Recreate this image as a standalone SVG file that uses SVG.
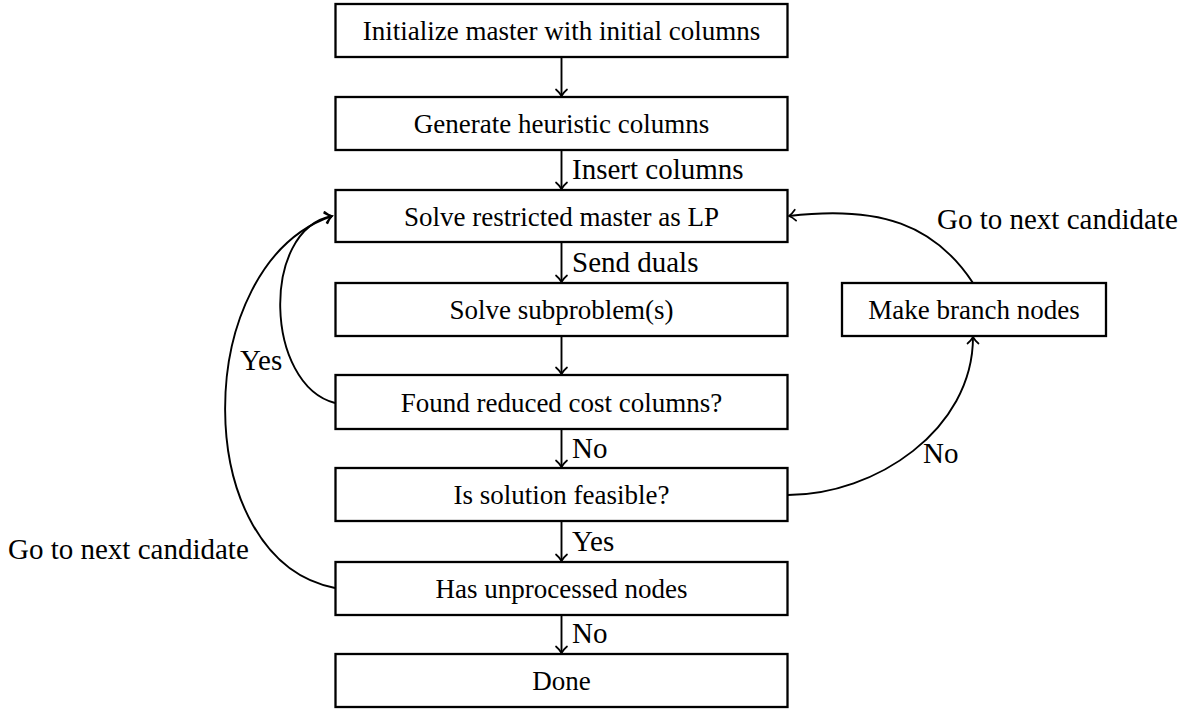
<svg xmlns="http://www.w3.org/2000/svg" width="1196" height="709" viewBox="0 0 1196 709">
<defs>
<style>
.box{fill:#fff;stroke:#000;stroke-width:2.3}
.nt{font-family:"Liberation Serif","DejaVu Serif",serif;font-size:27px;fill:#000;text-anchor:middle}
.lb{font-family:"Liberation Serif","DejaVu Serif",serif;font-size:29px;fill:#000}
.cn{fill:none;stroke:#000;stroke-width:1.9;marker-end:url(#arr)}
</style>
<marker id="arr" markerUnits="userSpaceOnUse" viewBox="-10 -8 12 16" markerWidth="12" markerHeight="16" refX="0" refY="0" orient="auto" overflow="visible">
<path d="M-6.5,-5.5 C-4,-2.5 -1.5,-0.8 0,0 C-1.5,0.8 -4,2.5 -6.5,5.5" fill="none" stroke="#000" stroke-width="1.7" stroke-linecap="round"/>
</marker>
</defs>
<rect width="1196" height="709" fill="#fff"/>
<g id="connectors">
<path class="cn" d="M561.5,57 L561.5,96"/>
<path class="cn" d="M561.5,150 L561.5,189"/>
<path class="cn" d="M561.5,242 L561.5,282"/>
<path class="cn" d="M561.5,336 L561.5,374"/>
<path class="cn" d="M561.5,429 L561.5,467"/>
<path class="cn" d="M561.5,521 L561.5,561"/>
<path class="cn" d="M561.5,615 L561.5,653"/>
<path class="cn" d="M335,403 C265,385 260,230 332,216"/>
<path class="cn" d="M335,588 C189,560 189,265 332,216"/>
<path class="cn" d="M788,495 C875,495 973,430 973,337"/>
<path class="cn" d="M973,283 C935,225 880,205 789,216"/>
<text class="lb" x="572" y="179">Insert columns</text>
<text class="lb" x="572" y="272">Send duals</text>
<text class="lb" x="572" y="458">No</text>
<text class="lb" x="572" y="551">Yes</text>
<text class="lb" x="572" y="643">No</text>
<text class="lb" x="240" y="370">Yes</text>
<text class="lb" x="8" y="559">Go to next candidate</text>
<text class="lb" x="923" y="463">No</text>
<text class="lb" x="937" y="229">Go to next candidate</text>
</g>
<g id="n1"><rect class="box" x="335.5" y="4" width="452" height="53"/><text class="nt" x="561.5" y="40">Initialize master with initial columns</text></g>
<g id="n2"><rect class="box" x="335.5" y="97" width="452" height="53"/><text class="nt" x="561.5" y="133">Generate heuristic columns</text></g>
<g id="n3"><rect class="box" x="335.5" y="190" width="452" height="52"/><text class="nt" x="561.5" y="226">Solve restricted master as LP</text></g>
<g id="n4"><rect class="box" x="335.5" y="283" width="452" height="53"/><text class="nt" x="561.5" y="319">Solve subproblem(s)</text></g>
<g id="n5"><rect class="box" x="335.5" y="375" width="452" height="54"/><text class="nt" x="561.5" y="412">Found reduced cost columns?</text></g>
<g id="n6"><rect class="box" x="335.5" y="468" width="452" height="53"/><text class="nt" x="561.5" y="504">Is solution feasible?</text></g>
<g id="n7"><rect class="box" x="335.5" y="562" width="452" height="53"/><text class="nt" x="561.5" y="598">Has unprocessed nodes</text></g>
<g id="n8"><rect class="box" x="335.5" y="654" width="452" height="53"/><text class="nt" x="561.5" y="690">Done</text></g>
<g id="n9"><rect class="box" x="842" y="283" width="264" height="53"/><text class="nt" x="974" y="319">Make branch nodes</text></g>
</svg>
